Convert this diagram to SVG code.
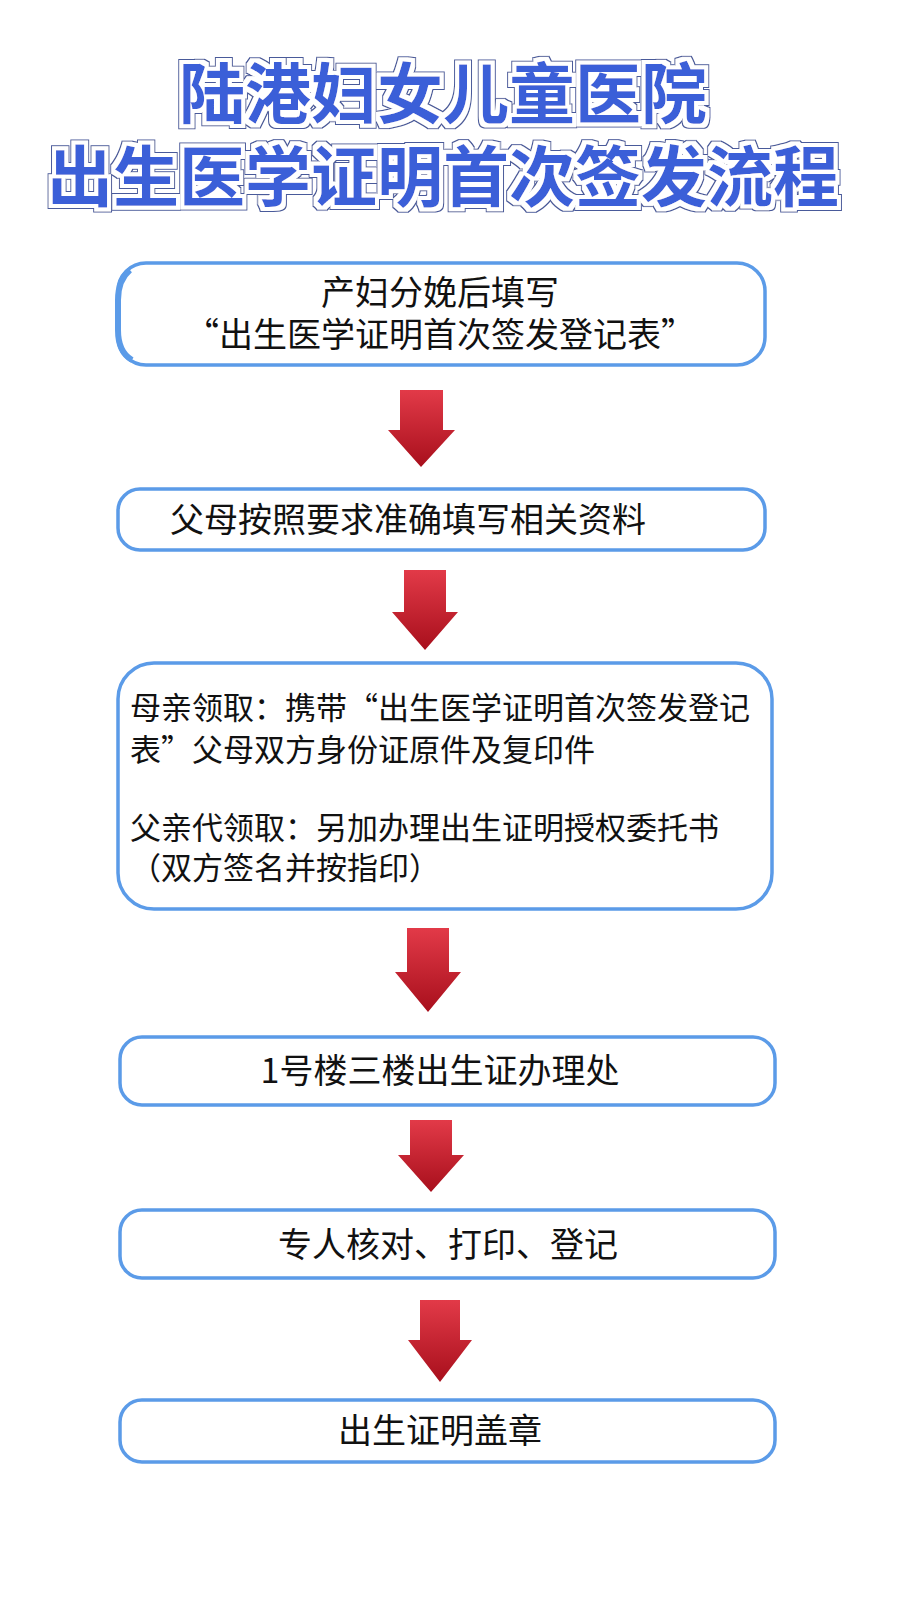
<svg xmlns="http://www.w3.org/2000/svg" width="905" height="1600" viewBox="0 0 905 1600">
<defs>
<linearGradient id="rg" x1="0" y1="0" x2="0" y2="1"><stop offset="0" stop-color="#e23a48"/><stop offset="1" stop-color="#a80f1c"/></linearGradient>
<filter id="ol" x="-5%" y="-20%" width="110%" height="140%">
<feMorphology in="SourceAlpha" operator="dilate" radius="5" result="d2"/>
<feFlood flood-color="#4a5a9a"/><feComposite in2="d2" operator="in" result="dark"/>
<feMorphology in="SourceAlpha" operator="dilate" radius="3.5" result="d1"/>
<feFlood flood-color="#ffffff"/><feComposite in2="d1" operator="in" result="white"/>
<feMerge><feMergeNode in="dark"/><feMergeNode in="white"/><feMergeNode in="SourceGraphic"/></feMerge>
</filter>
<style>
.t{font-family:"Noto Sans CJK SC","Noto Sans",sans-serif;font-weight:700;font-size:66px;text-anchor:middle;fill:#3b5fd8;filter:url(#ol)}
.b{fill:#fff;stroke:#5b9be8;stroke-width:3.5}
.x{font-family:"Noto Sans CJK SC","Noto Sans",sans-serif;font-size:34px;fill:#111}
.c{text-anchor:middle}
.s{font-size:31px}
.a{fill:url(#rg)}
</style>
</defs>
<rect width="905" height="1600" fill="#fff"/>
<g id="title">
<text class="t" x="443" y="118">陆港妇女儿童医院</text>
<text class="t" x="443" y="201">出生医学证明首次签发流程</text>
</g>
<g id="n1"><rect class="b" x="118" y="263" width="647" height="102" rx="28"/><path d="M130 270 Q118 280 118 300 L118 330 Q118 352 132 360" fill="none" stroke="#5b9be8" stroke-width="6"/>
<text class="x c" x="440" y="305">产妇分娩后填写</text><text class="x c" x="440" y="347">“出生医学证明首次签发登记表”</text></g>
<g id="n2"><rect class="b" x="118" y="489" width="647" height="61" rx="22"/><text class="x" x="170" y="532">父母按照要求准确填写相关资料</text></g>
<g id="n3"><rect class="b" x="118" y="663" width="654" height="246" rx="36" stroke-width="5"/>
<text class="x s" x="130" y="719">母亲领取：携带“出生医学证明首次签发登记</text>
<text class="x s" x="130" y="761">表”父母双方身份证原件及复印件</text>
<text class="x s" x="130" y="839">父亲代领取：另加办理出生证明授权委托书</text>
<text class="x s" x="130" y="879">（双方签名并按指印）</text></g>
<g id="n4"><rect class="b" x="120" y="1037" width="655" height="68" rx="22"/><text class="x c" x="440" y="1083">1号楼三楼出生证办理处</text></g>
<g id="n5"><rect class="b" x="120" y="1210" width="655" height="68" rx="22"/><text class="x c" x="448" y="1257">专人核对、打印、登记</text></g>
<g id="n6"><rect class="b" x="120" y="1400" width="655" height="62" rx="22"/><text class="x c" x="440" y="1443">出生证明盖章</text></g>
<g id="connectors">
<path class="a" d="M400 390 H443 V430 H455 L421 467 L388 430 H400Z"/>
<path class="a" d="M404 570 H446 V612 H458 L425 650 L392 612 H404Z"/>
<path class="a" d="M407 928 H449 V972 H461 L428 1012 L395 972 H407Z"/>
<path class="a" d="M410 1120 H452 V1155 H464 L431 1192 L398 1155 H410Z"/>
<path class="a" d="M420 1300 H460 V1340 H472 L440 1382 L408 1340 H420Z"/>
</g>
</svg>
